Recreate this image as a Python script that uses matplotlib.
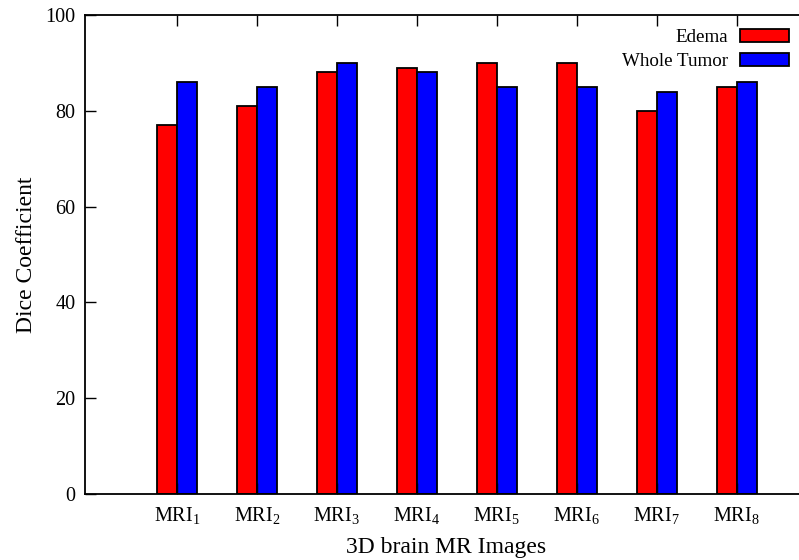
import numpy as np
import matplotlib
matplotlib.use("Agg")
import matplotlib.pyplot as plt

# Dice scores per MRI volume
labels = ["MRI$_{%d}$" % i for i in range(1, 9)]
edema = [77, 81, 88, 89, 90, 90, 80, 85]
whole_tumor = [86, 85, 90, 88, 85, 85, 84, 86]

plt.rcParams["font.family"] = ["Liberation Serif"]
plt.rcParams["mathtext.fontset"] = "custom"
plt.rcParams["mathtext.rm"] = "Liberation Serif"
plt.rcParams["mathtext.it"] = "Liberation Serif:italic"

fig = plt.figure(figsize=(7.99, 5.60), dpi=100)
ax = fig.add_axes([85 / 799, 66 / 560, 1 - 85 / 799 + 0.01, 479 / 560])

x = np.arange(len(labels))
w = 0.25
ax.bar(x - w / 2, edema, w, color="#ff0000", edgecolor="black", linewidth=1.3, label="Edema")
ax.bar(x + w / 2, whole_tumor, w, color="#0000ff", edgecolor="black", linewidth=1.3, label="Whole Tumor")

ax.set_xlim(-1.15, 7.88)
ax.set_ylim(0, 100)
ax.set_xticks(x)
ax.set_xticklabels(labels)
ax.set_yticks(np.arange(0, 101, 20))
ax.tick_params(axis="x", direction="in", length=8, width=1, top=True, pad=8, labelsize=14.5)
ax.tick_params(axis="y", direction="in", length=8, width=1, right=False, pad=7, labelsize=14.5)
ax.spines["right"].set_visible(False)
for s in ["left", "top", "bottom"]:
    ax.spines[s].set_linewidth(1.3)

ax.set_xlabel("3D brain MR Images", fontsize=17, labelpad=8)
ax.set_ylabel("Dice Coefficient", fontsize=17, labelpad=6)

ax.legend(loc="upper right", bbox_to_anchor=(0.994, 0.998), frameon=False, markerfirst=False,
          fontsize=13.7, handlelength=2.6, handleheight=0.65, labelspacing=0.35,
          handletextpad=0.6, borderaxespad=0.3)

fig.savefig("out.png", dpi=100)
